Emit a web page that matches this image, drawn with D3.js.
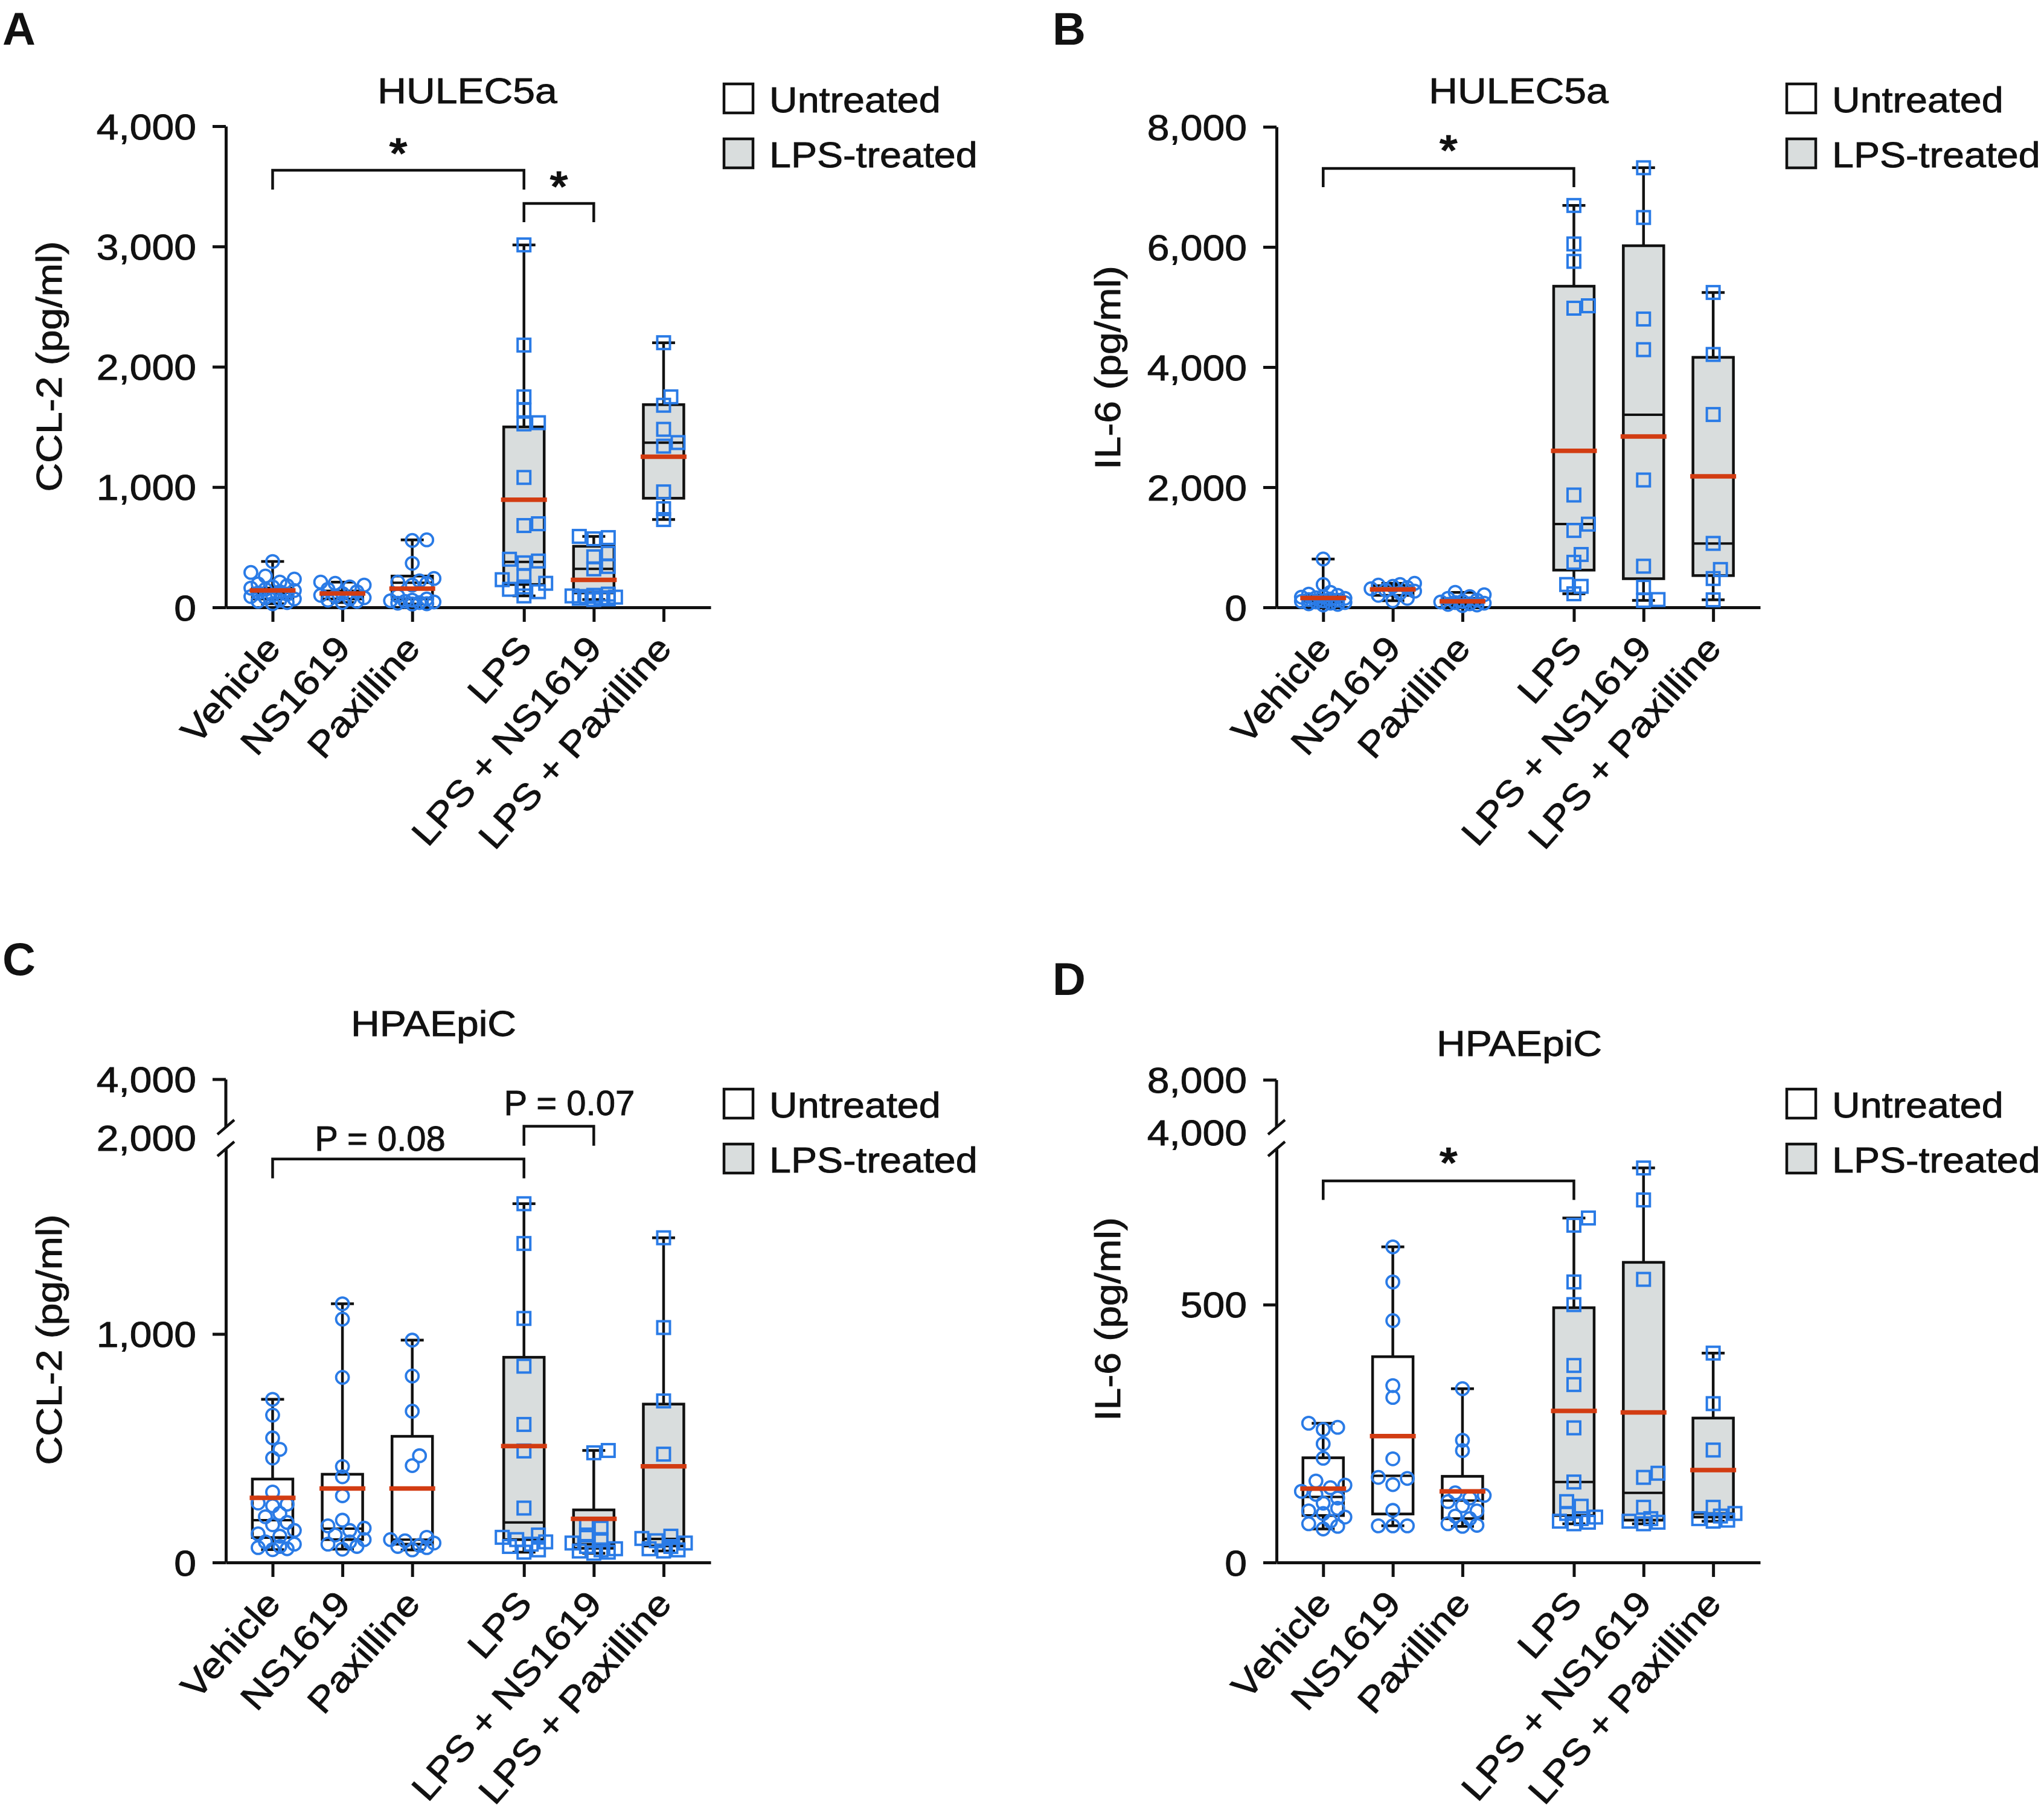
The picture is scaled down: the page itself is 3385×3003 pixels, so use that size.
<!DOCTYPE html>
<html><head><meta charset="utf-8">
<script src="https://cdn.jsdelivr.net/npm/d3@7"></script>
<style>body{margin:0;background:#fff}</style>
</head><body>
<script>
// ---------------- DATA ----------------
const categories = ["Vehicle", "NS1619", "Paxilline", "LPS", "LPS + NS1619", "LPS + Paxilline"];
const lpsTreated = [false, false, false, true, true, true];
const legendLabels = ["Untreated", "LPS-treated"];

// Panel A: CCL-2, HULEC5a
const aPoints = [
  [381, 290, 260, 235, 210, 195, 180, 170, 160, 150, 140, 130, 120, 110, 100, 90, 80, 70, 60, 50, 40, 30],
  [210, 200, 185, 170, 150, 130, 115, 100, 90, 80, 70, 60, 50, 40],
  [561, 556, 366, 240, 220, 210, 200, 185, 95, 70, 60, 55, 50, 45, 40, 35, 30, 28],
  [3013, 2180, 1750, 1640, 1535, 1525, 1080, 695, 680, 400, 385, 370, 260, 230, 200, 170, 150, 130, 95],
  [590, 580, 570, 450, 420, 340, 320, 110, 100, 95, 90, 85, 80, 75, 70, 65],
  [2200, 1750, 1680, 1480, 1370, 1340, 960, 820, 730]
];
const aMin    = [30, 40, 28, 95, 65, 730];
const aQ1     = [70, 70, 70, 190, 120, 907];
const aMedian = [120, 110, 205, 378, 320, 1369];
const aQ3     = [160, 136, 260, 1500, 508, 1685];
const aMax    = [381, 210, 561, 3013, 590, 2200];
const aMean   = [141, 116, 155, 895, 228, 1252];
const aTicks  = [0, 1000, 2000, 3000, 4000];

// Panel B: IL-6, HULEC5a
const bPoints = [
  [805, 380, 250, 220, 200, 180, 170, 160, 150, 140, 130, 120, 110, 100, 90, 80, 70, 60, 50, 40],
  [400, 380, 370, 350, 330, 310, 290, 270, 240, 200, 150, 110],
  [250, 210, 180, 150, 120, 100, 90, 80, 70, 60, 50, 40, 30],
  [6690, 6050, 5760, 5020, 4980, 1870, 1385, 1280, 880, 750, 380, 350, 226],
  [7318, 6490, 4800, 4290, 2120, 685, 335, 130, 116],
  [5242, 4210, 3210, 1065, 630, 480, 125]
];
const bMin    = [40, 110, 30, 226, 116, 125];
const bQ1     = [90, 200, 55, 620, 477, 529];
const bMedian = [140, 300, 90, 1386, 3207, 1064];
const bQ3     = [200, 360, 150, 5346, 6020, 4162];
const bMax    = [805, 400, 250, 6690, 7318, 5242];
const bMean   = [156, 300, 100, 2605, 2844, 2180];
const bTicks  = [0, 2000, 4000, 6000, 8000];

// Panel C: CCL-2, HPAEpiC (broken axis)
const cPoints = [
  [714, 645, 545, 495, 457, 308, 260, 255, 248, 215, 200, 175, 165, 140, 125, 115, 90, 80, 70, 65, 60, 56],
  [1132, 1065, 810, 420, 375, 292, 185, 160, 150, 140, 120, 100, 90, 80, 70, 58],
  [973, 816, 662, 467, 424, 110, 100, 95, 85, 75, 70, 65, 55],
  [1570, 1396, 1068, 859, 604, 488, 238, 120, 110, 100, 90, 80, 70, 55, 45],
  [490, 480, 165, 150, 120, 100, 85, 70, 60, 55, 50, 45, 40],
  [1421, 1028, 707, 474, 115, 105, 95, 85, 70, 60, 55, 50]
];
const cMin    = [56, 58, 55, 45, 40, 50];
const cQ1     = [109, 100, 80, 100, 62, 72];
const cMedian = [185, 148, 100, 175, 80, 103];
const cQ3     = [365, 386, 552, 898, 230, 693];
const cMax    = [714, 1132, 973, 1570, 490, 1421];
const cMean   = [283, 324, 324, 509, 191, 421];
const cLowerTicks = [0, 1000];
const cUpperTicks = [2000, 4000];
const cLowerTop = 1810;

// Panel D: IL-6, HPAEpiC (broken axis)
const dPoints = [
  [270, 262, 258, 230, 202, 158, 150, 145, 138, 132, 125, 115, 105, 100, 95, 88, 80, 75, 70, 65],
  [612, 544, 469, 343, 320, 201, 165, 163, 151, 101, 71, 71, 71],
  [337, 237, 217, 135, 130, 125, 118, 110, 100, 90, 85, 75, 72, 70],
  [668, 654, 544, 500, 382, 345, 261, 156, 118, 109, 95, 88, 85, 80, 78, 75],
  [765, 703, 549, 173, 165, 107, 85, 80, 78, 75],
  [406, 308, 218, 107, 95, 90, 85, 82, 80]
];
const dMin    = [65, 71, 70, 75, 75, 80];
const dQ1     = [91, 94, 85, 91, 82, 88];
const dMedian = [127, 168, 120, 156, 135, 95];
const dQ3     = [203, 399, 167, 494, 582, 280];
const dMax    = [270, 612, 337, 668, 765, 406];
const dMean   = [143, 245, 138, 294, 291, 179];
const dLowerTicks = [0, 500];
const dUpperTicks = [4000, 8000];
const dLowerTop = 802;

// Significance annotations (group indices, bracket top/leg values, label, label value)
const aBrackets = [
  {from: 0, to: 3, top: 3634, leg: 3473, label: "*", labelAt: 3689},
  {from: 3, to: 4, top: 3358, leg: 3202, label: "*", labelAt: 3413}
];
const bBrackets = [
  {from: 0, to: 3, top: 7307, leg: 6995, label: "*", labelAt: 7437}
];
const cBrackets = [
  {from: 0, to: 3, top: 1766, leg: 1681, label: "P = 0.08", labelAt: 1802},
  {from: 3, to: 4, top: 1909, leg: 1824, label: "P = 0.07", labelAt: 1958}
];
const dBrackets = [
  {from: 0, to: 3, top: 740, leg: 703, label: "*", labelAt: 755}
];

// ---------------- DRAWING ----------------
const W = 3385, H = 3003;
const FF = "'Liberation Sans', Arial, Helvetica, sans-serif";
const FS = 59, ST = 1.12;
const INK = "#111";
const BLUE = "#2a7be6", RED = "#d23c12", GREY = "#d9dddd";
const POS = [0, 1, 2, 3.6, 4.6, 5.6];

const svg = d3.select("body").append("svg").attr("width", W).attr("height", H)
  .attr("xmlns", "http://www.w3.org/2000/svg");
svg.append("rect").attr("width", W).attr("height", H).attr("fill", "#fff");

function txt(g, x, y, s, o = {}) {
  return g.append("text")
    .attr("transform", `translate(${x},${y}) rotate(${o.rotate || 0}) scale(${o.stretch ?? ST},1)`)
    .attr("text-anchor", o.anchor || "start")
    .attr("font-size", o.size || FS)
    .attr("font-weight", o.weight || "normal")
    .attr("stroke", INK).attr("stroke-width", o.sw ?? 0.9)
    .attr("font-family", FF).attr("fill", INK).text(s);
}

function swarm(vals, y, cx) {
  const placed = [], out = new Array(vals.length);
  const order = vals.map((v, i) => i).sort((a, b) => vals[a] - vals[b]);
  const step = 12, minD = 17, ks = [0, 1, -1, 2, -2, 3, -3];
  for (const i of order) {
    const py = y(vals[i]);
    let best = cx, bestD = -1;
    for (const k of ks) {
      const px = cx + k * step;
      let md = Infinity;
      for (const q of placed) md = Math.min(md, Math.hypot(q[0] - px, q[1] - py));
      if (md >= minD) { best = px; bestD = md; break; }
      if (md > bestD) { bestD = md; best = px; }
    }
    placed.push([best, py]); out[i] = [best, py];
  }
  return out;
}

function styleAxis(s) {
  s.selectAll("path, line").attr("stroke", INK).attr("stroke-width", 5);
}

function drawPanel(p) {
  const g = svg.append("g");
  const x = d3.scaleLinear().domain([-0.67, 6.275]).range([p.ax, p.ax1]);
  const y = d3.scaleLinear().domain([0, p.lowerTop]).range([p.y0, p.yTopPx]);

  // x axis
  g.append("g").attr("transform", `translate(0,${p.y0})`)
    .call(d3.axisBottom(x).tickValues(POS).tickSize(24).tickSizeOuter(0).tickFormat(""))
    .call(styleAxis);
  // y axis (lower / main)
  g.append("g").attr("transform", `translate(${p.ax},0)`)
    .call(d3.axisLeft(y).tickValues(p.ticks).tickSize(22).tickSizeOuter(0).tickFormat(d3.format(",")))
    .call(styleAxis)
    .call(s => s.selectAll("text").attr("x", null).attr("dy", null)
      .attr("transform", `translate(-49,21) scale(${ST},1)`)
      .attr("stroke", INK).attr("stroke-width", 0.9)
      .attr("font-size", FS).attr("font-family", FF).attr("fill", INK).attr("text-anchor", "end"));

  // broken upper axis
  if (p.upperTicks) {
    const yu = d3.scaleLinear().domain(p.upperTicks).range([p.upperLowPx, p.upperTopPx]);
    const top = p.upperTicks[1];
    g.append("line").attr("x1", p.ax).attr("x2", p.ax).attr("y1", yu(top)).attr("y2", p.breakA)
      .attr("stroke", INK).attr("stroke-width", 5);
    g.append("line").attr("x1", p.ax - 22).attr("x2", p.ax).attr("y1", yu(top)).attr("y2", yu(top))
      .attr("stroke", INK).attr("stroke-width", 5);
    [p.breakA, p.breakB].forEach(b => {
      g.append("line").attr("x1", p.ax - 14).attr("y1", b + 12).attr("x2", p.ax + 14).attr("y2", b - 12)
        .attr("stroke", INK).attr("stroke-width", 4.5);
    });
    p.upperTicks.forEach(t => txt(g, p.ax - 49, yu(t) + 21, d3.format(",")(t), {anchor: "end"}));
  }

  const bw = 67;
  // boxes + whiskers
  categories.forEach((c, i) => {
    const cx = x(POS[i]);
    const gg = g.append("g");
    gg.append("line").attr("x1", cx).attr("x2", cx).attr("y1", y(p.max[i])).attr("y2", y(p.q3[i]))
      .attr("stroke", INK).attr("stroke-width", 4.5);
    gg.append("line").attr("x1", cx).attr("x2", cx).attr("y1", y(p.q1[i])).attr("y2", y(p.min[i]))
      .attr("stroke", INK).attr("stroke-width", 4.5);
    [p.max[i], p.min[i]].forEach(v => gg.append("line").attr("x1", cx - 19).attr("x2", cx + 19)
      .attr("y1", y(v)).attr("y2", y(v)).attr("stroke", INK).attr("stroke-width", 4.5));
    gg.append("rect").attr("x", cx - bw / 2).attr("width", bw)
      .attr("y", y(p.q3[i])).attr("height", y(p.q1[i]) - y(p.q3[i]))
      .attr("fill", lpsTreated[i] ? GREY : "#fff").attr("stroke", INK).attr("stroke-width", 4.5);
    gg.append("line").attr("x1", cx - bw / 2).attr("x2", cx + bw / 2)
      .attr("y1", y(p.median[i])).attr("y2", y(p.median[i])).attr("stroke", INK).attr("stroke-width", 4);
  });
  // points
  categories.forEach((c, i) => {
    const cx = x(POS[i]);
    const pts = swarm(p.points[i], y, cx);
    if (lpsTreated[i]) {
      g.append("g").selectAll("rect").data(pts).join("rect")
        .attr("x", d => d[0] - 10.5).attr("y", d => d[1] - 10.5).attr("width", 21).attr("height", 21)
        .attr("fill", "none").attr("stroke", BLUE).attr("stroke-width", 4);
    } else {
      g.append("g").selectAll("circle").data(pts).join("circle")
        .attr("cx", d => d[0]).attr("cy", d => d[1]).attr("r", 10.5)
        .attr("fill", "none").attr("stroke", BLUE).attr("stroke-width", 3.8);
    }
  });
  // means
  categories.forEach((c, i) => {
    const cx = x(POS[i]);
    g.append("line").attr("x1", cx - 38).attr("x2", cx + 38).attr("y1", y(p.mean[i])).attr("y2", y(p.mean[i]))
      .attr("stroke", RED).attr("stroke-width", 7.5);
  });

  // category labels
  categories.forEach((c, i) => txt(g, x(POS[i]) + 16, p.y0 + 70, c, {anchor: "end", rotate: -48.5}));

  // brackets
  p.brackets.forEach((b, j) => {
    const x1 = x(POS[b.from]), x2 = x(POS[b.to]);
    g.append("path").attr("d", `M${x1},${y(b.leg)}V${y(b.top)}H${x2}V${y(b.leg)}`)
      .attr("fill", "none").attr("stroke", INK).attr("stroke-width", 4.5);
    const star = b.label === "*";
    txt(g, x(p.labelX[j]), y(b.labelAt) + (star ? 6 : 0), b.label,
      {anchor: "middle", size: star ? 68 : 58, stretch: star ? 1.1 : 1.0, sw: star ? 2.5 : 0.9});
  });

  // title, letter, y label
  txt(g, p.titleX, p.titleY, p.title, {anchor: "middle"});
  txt(g, p.letterX, p.letterY, p.letter, {size: 76, weight: "bold", stretch: 1, sw: 0});
  txt(g, p.ylabX, p.ylabY, p.ylab, {anchor: "middle", rotate: -90});

  // legend
  legendLabels.forEach((l, k) => {
    const ly = p.legY[k];
    g.append("rect").attr("x", p.legX).attr("y", ly).attr("width", 48).attr("height", 48)
      .attr("fill", k ? GREY : "#fff").attr("stroke", INK).attr("stroke-width", 4.5);
    txt(g, p.legX + 75, ly + 47, l, {stretch: 1.095});
  });
}

drawPanel({
  points: aPoints, min: aMin, q1: aQ1, median: aMedian, q3: aQ3, max: aMax, mean: aMean,
  ticks: aTicks, lowerTop: 4000, brackets: aBrackets, labelX: [1.8, 4.1],
  ax: 374, ax1: 1177, y0: 1006, yTopPx: 209,
  title: "HULEC5a", titleX: 774, titleY: 171, letter: "A", letterX: 4, letterY: 74,
  ylab: "CCL-2 (pg/ml)", ylabX: 102, ylabY: 607, legX: 1199, legY: [139, 230]
});
drawPanel({
  points: bPoints, min: bMin, q1: bQ1, median: bMedian, q3: bQ3, max: bMax, mean: bMean,
  ticks: bTicks, lowerTop: 8000, brackets: bBrackets, labelX: [1.8],
  ax: 2114, ax1: 2915, y0: 1006, yTopPx: 210,
  title: "HULEC5a", titleX: 2515, titleY: 171, letter: "B", letterX: 1743, letterY: 74,
  ylab: "IL-6 (pg/ml)", ylabX: 1855, ylabY: 609, legX: 2959, legY: [139, 230]
});
drawPanel({
  points: cPoints, min: cMin, q1: cQ1, median: cMedian, q3: cQ3, max: cMax, mean: cMean,
  ticks: cLowerTicks, lowerTop: cLowerTop, brackets: cBrackets, labelX: [1.54, 4.25],
  upperTicks: cUpperTicks, upperLowPx: 1885, upperTopPx: 1788, breakA: 1867, breakB: 1903,
  ax: 374, ax1: 1177, y0: 2588, yTopPx: 1903,
  title: "HPAEpiC", titleX: 718, titleY: 1716, letter: "C", letterX: 4, letterY: 1615,
  ylab: "CCL-2 (pg/ml)", ylabX: 102, ylabY: 2219, legX: 1199, legY: [1804, 1895]
});
drawPanel({
  points: dPoints, min: dMin, q1: dQ1, median: dMedian, q3: dQ3, max: dMax, mean: dMean,
  ticks: dLowerTicks, lowerTop: dLowerTop, brackets: dBrackets, labelX: [1.8],
  upperTicks: dUpperTicks, upperLowPx: 1876, upperTopPx: 1789, breakA: 1867, breakB: 1903,
  ax: 2114, ax1: 2915, y0: 2588, yTopPx: 1903,
  title: "HPAEpiC", titleX: 2516, titleY: 1749, letter: "D", letterX: 1743, letterY: 1648,
  ylab: "IL-6 (pg/ml)", ylabX: 1855, ylabY: 2185, legX: 2959, legY: [1804, 1895]
});
</script>
</body></html>
